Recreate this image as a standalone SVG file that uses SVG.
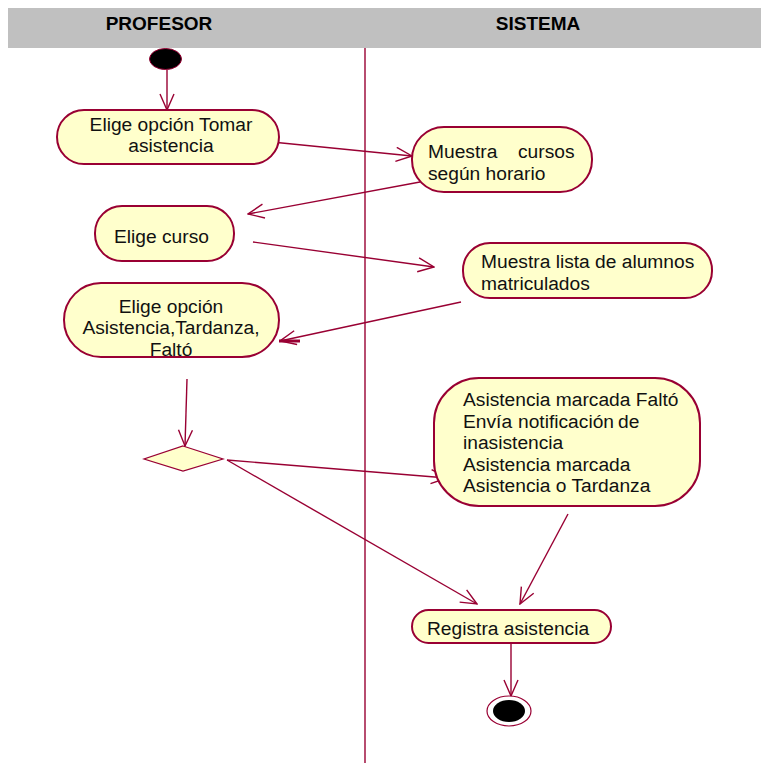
<svg xmlns="http://www.w3.org/2000/svg" width="761" height="763" viewBox="0 0 761 763">
<style>
.node{fill:#FFFFCC;stroke:#990033;stroke-width:2}
.lbl{font-family:"Liberation Sans",Arial,sans-serif;font-size:19.2px;fill:#111}
.hdr{font-family:"Liberation Sans",Arial,sans-serif;font-size:19px;font-weight:bold;fill:#000}
.c{text-anchor:middle}
.conn line{stroke:#990033;stroke-width:1.4;marker-end:url(#arr)}
</style>
<defs>
<marker id="arr" markerUnits="userSpaceOnUse" viewBox="0 0 18 16" refX="17" refY="8" markerWidth="18" markerHeight="16" orient="auto">
<path d="M1,1 L17,8 L1,15" fill="none" stroke="#990033" stroke-width="1.4"/>
</marker>
</defs>
<rect width="761" height="763" fill="#fff"/>
<g id="lanes">
<rect x="8" y="8" width="753" height="40" fill="#C0C0C0"/>
<text class="hdr c" x="159" y="30">PROFESOR</text>
<text class="hdr c" x="538" y="30">SISTEMA</text>
<line x1="365" y1="48" x2="365" y2="763" stroke="#990033" stroke-width="1.4"/>
</g>
<g class="conn" id="connectors">
<line x1="167" y1="70" x2="167" y2="110"/>
<line x1="272" y1="142" x2="412" y2="156"/>
<line x1="420" y1="182" x2="248" y2="214"/>
<line x1="253" y1="242" x2="434" y2="267"/>
<line x1="461" y1="302" x2="280" y2="341"/>
<line x1="187" y1="379" x2="185" y2="446"/>
<line x1="227" y1="460" x2="447" y2="478"/>
<line x1="227" y1="460" x2="477" y2="604"/>
<line x1="568" y1="514" x2="520" y2="604"/>
<line x1="511" y1="643" x2="511" y2="696"/>
</g>
<line x1="279" y1="341" x2="300" y2="341" stroke="#990033" stroke-width="3"/>
<g id="start">
<ellipse cx="165.5" cy="59" rx="16" ry="10.5" fill="#000" stroke="#990033" stroke-width="1"/>
</g>
<g id="n1">
<rect class="node" x="57" y="110" width="222" height="54" rx="27"/>
<text class="lbl c" x="171" y="131">Elige opción Tomar</text>
<text class="lbl c" x="171" y="152">asistencia</text>
</g>
<g id="n2">
<rect class="node" x="412" y="127" width="180" height="65" rx="32"/>
<text class="lbl" x="428" y="158">Muestra</text>
<text class="lbl" x="518" y="158">cursos</text>
<text class="lbl" x="428" y="180">según horario</text>
</g>
<g id="n3">
<rect class="node" x="95" y="206" width="139" height="55" rx="27"/>
<text class="lbl" x="114" y="243">Elige curso</text>
</g>
<g id="n4">
<rect class="node" x="463" y="243" width="249" height="55" rx="27"/>
<text class="lbl" x="481" y="268">Muestra lista de alumnos</text>
<text class="lbl" x="481" y="290">matriculados</text>
</g>
<g id="n5">
<rect class="node" x="64" y="283" width="215" height="74" rx="37"/>
<text class="lbl c" x="171" y="313">Elige opción</text>
<text class="lbl c" x="171" y="334">Asistencia,Tardanza,</text>
<text class="lbl c" x="171" y="356">Faltó</text>
</g>
<g id="decision">
<polygon points="183,446 223,459 183,471 144,459" fill="#FFFFCC" stroke="#990033" stroke-width="1.2"/>
</g>
<g id="n6">
<rect class="node" x="434" y="378" width="266" height="128" rx="45"/>
<text class="lbl" x="463" y="406">Asistencia marcada Faltó</text>
<text class="lbl" x="463" y="428">Envía</text>
<text class="lbl" x="518" y="428">notificación</text>
<text class="lbl" x="618" y="428">de</text>
<text class="lbl" x="463" y="449">inasistencia</text>
<text class="lbl" x="463" y="471">Asistencia marcada</text>
<text class="lbl" x="463" y="492">Asistencia o Tardanza</text>
</g>
<g id="n7">
<rect class="node" x="412" y="610" width="199" height="33" rx="16.5"/>
<text class="lbl" x="427" y="635">Registra asistencia</text>
</g>
<g id="end">
<ellipse cx="509" cy="711" rx="22" ry="15" fill="#fff" stroke="#990033" stroke-width="1.2"/>
<ellipse cx="509" cy="711" rx="16" ry="11" fill="#000"/>
</g>
</svg>
